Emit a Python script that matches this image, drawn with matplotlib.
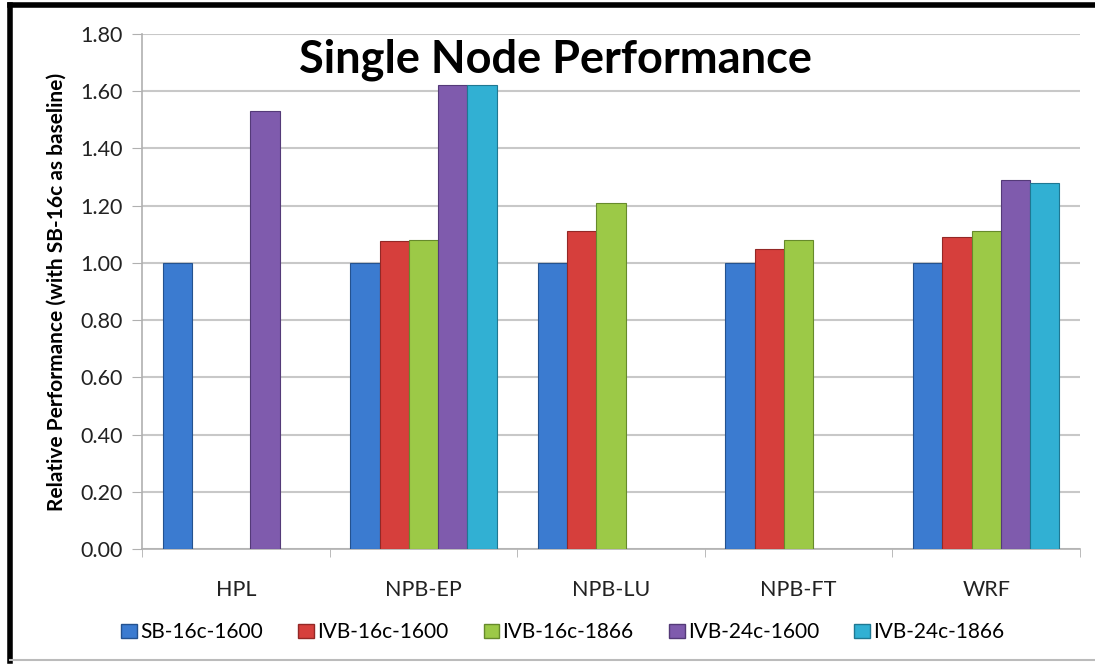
import matplotlib.pyplot as plt
import numpy as np
from matplotlib.patches import Rectangle
from matplotlib.lines import Line2D

# dados (SB-16c = 1.00 como base)
benchmarks = ['HPL', 'NPB-EP', 'NPB-LU', 'NPB-FT', 'WRF']
series = ['SB-16c-1600', 'IVB-16c-1600', 'IVB-16c-1866', 'IVB-24c-1600', 'IVB-24c-1866']
sb_16c_1600 = [1.00, 1.00, 1.00, 1.00, 1.00]
ivb_16c_1600 = [np.nan, 1.075, 1.11, 1.05, 1.09]
ivb_16c_1866 = [np.nan, 1.08, 1.21, 1.08, 1.11]
ivb_24c_1600 = [1.53, 1.62, np.nan, np.nan, 1.29]
ivb_24c_1866 = [np.nan, 1.62, np.nan, np.nan, 1.28]
cores = ['#3b7bd0', '#d63f3c', '#9cc947', '#7f5bad', '#31b0d3']
bordas = ['#24528f', '#932826', '#668a2b', '#543a78', '#1f7892']

valores = [sb_16c_1600, ivb_16c_1600, ivb_16c_1866, ivb_24c_1600, ivb_24c_1866]

plt.rcParams['font.family'] = ['Lato', 'DejaVu Sans']

fig = plt.figure(figsize=(10.95, 6.64), dpi=100)
ax = fig.add_axes([0.1297, 0.173, 0.8566, 0.776])

x = np.arange(len(benchmarks))
w = 0.156
for i, (nome, v) in enumerate(zip(series, valores)):
    ax.bar(x + (i - 2) * w, v, w, color=cores[i], edgecolor=bordas[i],
           linewidth=0.8, label=nome, zorder=3)

ax.set_ylim(0, 1.8)
ax.set_xlim(-0.5, 4.5)
ax.set_yticks(np.arange(0, 1.81, 0.2))
ax.set_yticklabels([f'{t:.2f}' for t in np.arange(0, 1.81, 0.2)], fontsize=15.5, color='#222222')
ax.yaxis.grid(True, color='#c8c8c8', linewidth=1.5, zorder=0)
ax.tick_params(axis='y', length=7, color='#b0b0b0', pad=7)

ax.set_xticks(x)
ax.set_xticklabels(benchmarks, fontsize=15.5, color='#222222')
ax.set_xticks(np.arange(-0.5, 5, 1), minor=True)
ax.tick_params(axis='x', which='major', length=0, pad=22)
ax.tick_params(axis='x', which='minor', length=6, color='#b0b0b0')

for s in ['top', 'right']:
    ax.spines[s].set_visible(False)
for s in ['left', 'bottom']:
    ax.spines[s].set_color('#b0b0b0')
    ax.spines[s].set_linewidth(1.2)

ax.set_ylabel('Relative Performance (with SB-16c as baseline)', fontsize=15,
              fontweight='bold', labelpad=10)
ax.text(0.441, 0.95, 'Single Node Performance', transform=ax.transAxes,
        ha='center', va='center', fontsize=32.5, fontweight='bold')

handles = [Rectangle((0, 0), 1, 1, facecolor=cores[i], edgecolor=bordas[i]) for i in range(5)]
fig.legend(handles, series, loc='center', bbox_to_anchor=(0.514, 0.048), ncol=5,
           frameon=False, fontsize=15, handlelength=0.75, handleheight=0.7,
           handletextpad=0.15, columnspacing=1.7)

# moldura externa
fig.add_artist(Line2D([0.009, 0.009], [0.005, 0.992], color='black', linewidth=4))
fig.add_artist(Line2D([0.009, 1.0], [0.992, 0.992], color='black', linewidth=4))
fig.add_artist(Line2D([0.009, 1.0], [0.006, 0.006], color='#bbbbbb', linewidth=1.5))

fig.savefig('out.png', dpi=100)
